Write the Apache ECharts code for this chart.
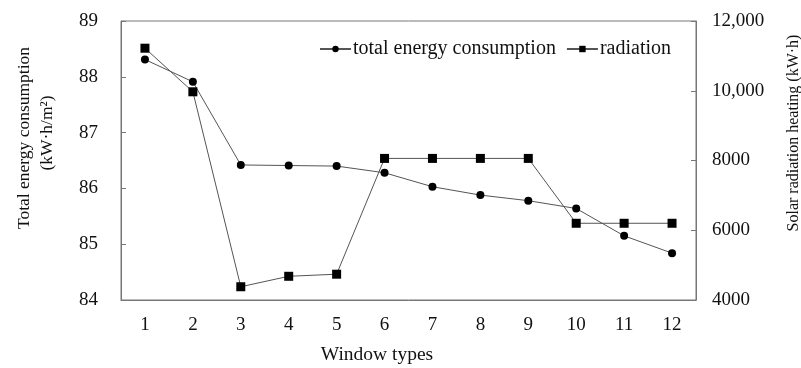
<!DOCTYPE html>
<html>
<head>
<meta charset="utf-8">
<script src="https://cdn.jsdelivr.net/npm/echarts@6/dist/echarts.min.js"></script>
<style>
  html, body { margin: 0; padding: 0; background: #fff; }
  #chart { width: 801px; height: 368px; }
</style>
</head>
<body>
<div id="chart"></div>
<script>
// Window types on the horizontal axis
const windowTypes = ['1', '2', '3', '4', '5', '6', '7', '8', '9', '10', '11', '12'];
// Total energy consumption, kW·h/m²
const totalEnergy = [88.31, 87.91, 86.42, 86.41, 86.40, 86.28, 86.03, 85.88, 85.78, 85.64, 85.15, 84.84];
// Solar radiation heating, kW·h
const radiation = [11220, 9970, 4380, 4680, 4740, 8060, 8060, 8060, 8060, 6200, 6200, 6200];
// Right-axis tick labels
const radiationTicks = { 4000: '4000', 6000: '6000', 8000: '8000', 10000: '10,000', 12000: '12,000' };

const serif = '"Liberation Serif", "Times New Roman", serif';
const lineColor = '#555';

const chart = echarts.init(document.getElementById('chart'), null, { renderer: 'canvas' });
chart.setOption({
  animation: false,
  backgroundColor: '#fff',
  textStyle: { fontFamily: serif, color: '#111' },
  grid: {
    left: 121, right: 105, top: 21, bottom: 68,
    show: true, borderColor: '#777', borderWidth: 1
  },
  legend: {
    top: 34, left: 314,
    itemWidth: 31, itemHeight: 8, itemGap: 10,
    textStyle: { fontFamily: serif, fontSize: 20, color: '#111', padding: [0, 0, 0, -3] },
    data: ['total energy consumption', 'radiation']
  },
  xAxis: {
    type: 'category',
    data: windowTypes,
    axisLine: { lineStyle: { color: '#777' } },
    axisTick: { inside: true, length: 5, lineStyle: { color: '#777' } },
    axisLabel: { fontFamily: serif, fontSize: 19, color: '#111', margin: 16 }
  },
  yAxis: [
    {
      type: 'value', min: 84, max: 89, interval: 1,
      position: 'left',
      splitLine: { show: false },
      axisLine: { show: true, lineStyle: { color: '#777' } },
      axisTick: { show: true, inside: true, length: 5, lineStyle: { color: '#777' } },
      axisLabel: { fontFamily: serif, fontSize: 19, color: '#111', margin: 23 }
    },
    {
      type: 'value', min: 4000, max: 12000, interval: 2000,
      position: 'right',
      splitLine: { show: false },
      axisLine: { show: true, lineStyle: { color: '#777' } },
      axisTick: { show: true, inside: true, length: 5, lineStyle: { color: '#777' } },
      axisLabel: {
        fontFamily: serif, fontSize: 19, color: '#111', margin: 16,
        formatter: v => radiationTicks[v] || String(v)
      }
    }
  ],
  graphic: [
    {
      type: 'text', x: 24, y: 138, rotation: Math.PI / 2,
      style: {
        text: 'Total energy consumption', font: '17.5px ' + serif, fill: '#111',
        textAlign: 'center', textVerticalAlign: 'middle'
      }
    },
    {
      type: 'text', x: 47, y: 133, rotation: Math.PI / 2,
      style: {
        text: '(kW·h/m²)', font: '17.5px ' + serif, fill: '#111',
        textAlign: 'center', textVerticalAlign: 'middle'
      }
    },
    {
      type: 'text', x: 794, y: 133, rotation: Math.PI / 2,
      style: {
        text: 'Solar radiation heating (kW·h)', font: '16px ' + serif, fill: '#111',
        textAlign: 'center', textVerticalAlign: 'middle'
      }
    },
    {
      type: 'text', x: 377, y: 355,
      style: {
        text: 'Window types', font: '19.5px ' + serif, fill: '#111',
        textAlign: 'center', textVerticalAlign: 'middle'
      }
    }
  ],
  series: [
    {
      name: 'total energy consumption',
      type: 'line',
      yAxisIndex: 0,
      data: totalEnergy,
      symbol: 'circle', symbolSize: 8,
      itemStyle: { color: '#000' },
      lineStyle: { color: lineColor, width: 1 }
    },
    {
      name: 'radiation',
      type: 'line',
      yAxisIndex: 1,
      data: radiation,
      symbol: 'rect', symbolSize: 9,
      itemStyle: { color: '#000' },
      lineStyle: { color: lineColor, width: 1 }
    }
  ]
});
</script>
</body>
</html>
